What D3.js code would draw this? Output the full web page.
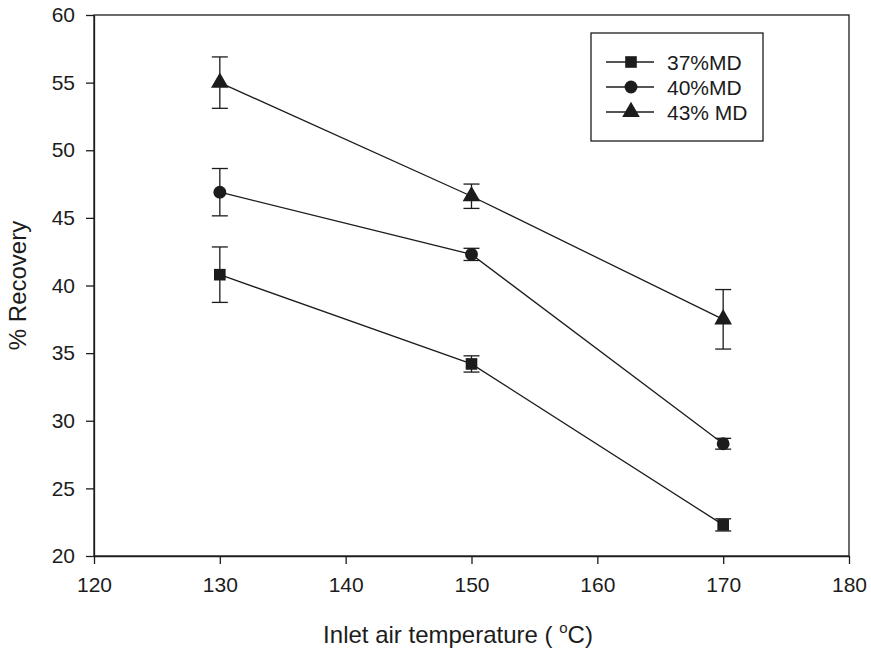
<!DOCTYPE html>
<html>
<head>
<meta charset="utf-8">
<script src="https://cdn.jsdelivr.net/npm/d3@7"></script>
<style>
  body { margin: 0; background: #fff; }
  svg { font-family: "Liberation Sans", Arial, sans-serif; }
</style>
</head>
<body>
<svg id="chart" width="871" height="655"></svg>
<script>
// Inlet air temperature (°C)
const temps = [130, 150, 170];

// % Recovery per maltodextrin level, with error bars
const md37 = [40.8, 34.2, 22.3];
const err37 = [2.05, 0.6, 0.45];
const md40 = [46.9, 42.3, 28.3];
const err40 = [1.75, 0.45, 0.4];
const md43 = [55.0, 46.6, 37.5];
const err43 = [1.9, 0.9, 2.2];

const seriesNames = ["37%MD", "40%MD", "43% MD"];
const xTicks = [120, 130, 140, 150, 160, 170, 180];
const yTicks = [20, 25, 30, 35, 40, 45, 50, 55, 60];

const series = [
    { name: seriesNames[0], values: md37, errs: err37, symbol: d3.symbolSquare, size: 135 },
    { name: seriesNames[1], values: md40, errs: err40, symbol: d3.symbolCircle, size: 130 },
    { name: seriesNames[2], values: md43, errs: err43, symbol: d3.symbolTriangle, size: 135 },
];

const width = 871, height = 655;
const margin = { top: 15, right: 22, bottom: 99, left: 94 };
const ink = "#1c1c1c";

const svg = d3.select("#chart");

const x = d3.scaleLinear().domain([120, 180]).range([margin.left, width - margin.right]);
const y = d3.scaleLinear().domain([20, 60]).range([height - margin.bottom, margin.top]);

// Frame (top and right lines, no ticks)
svg.append("rect")
    .attr("x", x(120))
    .attr("y", y(60))
    .attr("width", x(180) - x(120))
    .attr("height", y(20) - y(60))
    .attr("fill", "none")
    .attr("stroke", ink)
    .attr("stroke-width", 1.3);

// Axes
const xAxis = svg.append("g")
    .attr("transform", `translate(0,${y(20)})`)
    .call(d3.axisBottom(x).tickValues(xTicks).tickSize(8).tickPadding(13).tickSizeOuter(0));
const yAxis = svg.append("g")
    .attr("transform", `translate(${x(120)},0)`)
    .call(d3.axisLeft(y).tickValues(yTicks).tickSize(8).tickPadding(11).tickSizeOuter(0));

[xAxis, yAxis].forEach((ax) => {
    ax.select(".domain").attr("stroke", ink).attr("stroke-width", 1.3);
    ax.selectAll(".tick line").attr("stroke", ink).attr("stroke-width", 1.3);
    ax.selectAll(".tick text")
        .attr("fill", ink)
        .style("font-size", "21px")
        .style("font-family", "'Liberation Sans', Arial, sans-serif");
});

// Axis titles
const xTitle = svg.append("text")
    .attr("x", 458)
    .attr("y", 643)
    .attr("text-anchor", "middle")
    .attr("fill", ink)
    .style("font-size", "24px");
xTitle.append("tspan").text("Inlet air temperature ( ");
xTitle.append("tspan").attr("dy", -10).style("font-size", "15px").text("o");
xTitle.append("tspan").attr("dy", 10).text("C)");

svg.append("text")
    .attr("transform", `translate(26,${(y(20) + y(60)) / 2}) rotate(-90)`)
    .attr("text-anchor", "middle")
    .attr("fill", ink)
    .style("font-size", "24px")
    .text("% Recovery");

// Lines, error bars, markers
const line = d3.line()
    .x((d, i) => x(temps[i]))
    .y((d) => y(d));

const capHalf = 8;

series.forEach((s) => {
    const g = svg.append("g");

    g.append("path")
        .datum(s.values)
        .attr("d", line)
        .attr("fill", "none")
        .attr("stroke", ink)
        .attr("stroke-width", 1.3);

    const bars = g.selectAll(".err")
        .data(s.values)
        .enter()
        .append("g");

    bars.append("line")
        .attr("x1", (d, i) => x(temps[i]))
        .attr("x2", (d, i) => x(temps[i]))
        .attr("y1", (d, i) => y(d + s.errs[i]))
        .attr("y2", (d, i) => y(d - s.errs[i]))
        .attr("stroke", ink)
        .attr("stroke-width", 1.3);

    [1, -1].forEach((sign) => {
        bars.append("line")
            .attr("x1", (d, i) => x(temps[i]) - capHalf)
            .attr("x2", (d, i) => x(temps[i]) + capHalf)
            .attr("y1", (d, i) => y(d + sign * s.errs[i]))
            .attr("y2", (d, i) => y(d + sign * s.errs[i]))
            .attr("stroke", ink)
            .attr("stroke-width", 1.3);
    });

    g.selectAll(".marker")
        .data(s.values)
        .enter()
        .append("path")
        .attr("transform", (d, i) => `translate(${x(temps[i])},${y(d)})`)
        .attr("d", d3.symbol().type(s.symbol).size(s.size))
        .attr("fill", ink);
});

// Legend
const legend = svg.append("g");
legend.append("rect")
    .attr("x", 591)
    .attr("y", 33)
    .attr("width", 172)
    .attr("height", 108)
    .attr("fill", "#fff")
    .attr("stroke", ink)
    .attr("stroke-width", 1.3);

series.forEach((s, i) => {
    const ly = 62 + i * 25;
    legend.append("line")
        .attr("x1", 606)
        .attr("x2", 654)
        .attr("y1", ly)
        .attr("y2", ly)
        .attr("stroke", ink)
        .attr("stroke-width", 1.3);
    legend.append("path")
        .attr("transform", `translate(631,${ly})`)
        .attr("d", d3.symbol().type(s.symbol).size(s.size))
        .attr("fill", ink);
    legend.append("text")
        .attr("x", 667)
        .attr("y", ly)
        .attr("dy", "0.36em")
        .attr("fill", ink)
        .style("font-size", "21px")
        .text(s.name);
});
</script>
</body>
</html>
